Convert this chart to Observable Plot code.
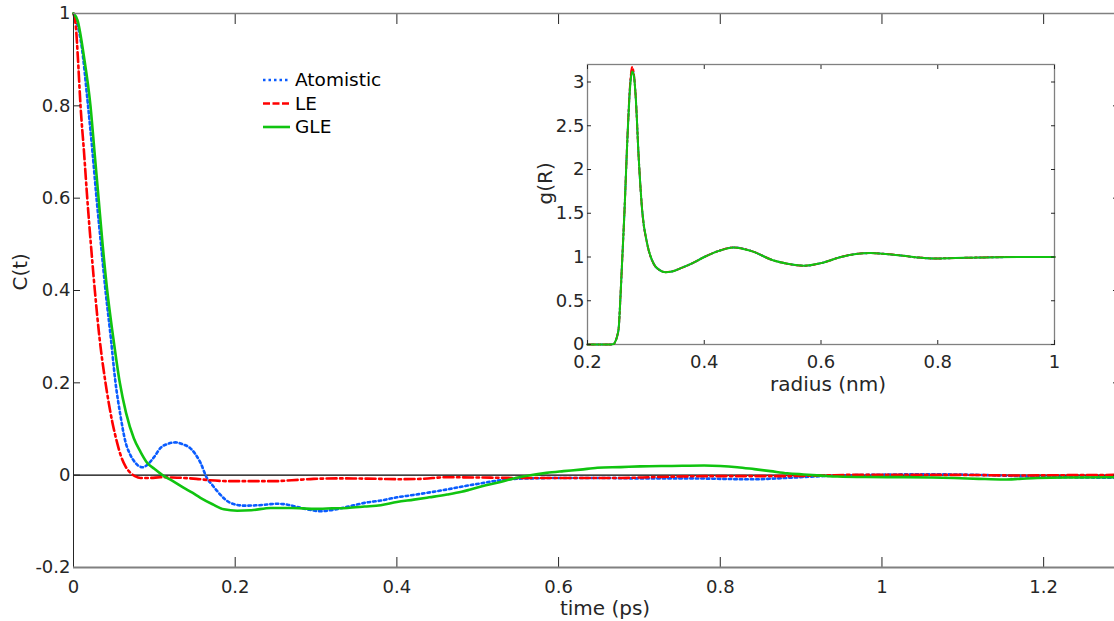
<!DOCTYPE html>
<html><head><meta charset="utf-8">
<script src="https://cdn.jsdelivr.net/npm/d3@7"></script>
<script src="https://cdn.jsdelivr.net/npm/@observablehq/plot@0.6"></script>
<style>
html,body{margin:0;padding:0;background:#fff;overflow:hidden;}
#wrap{position:relative;width:1114px;height:621px;overflow:hidden;font-family:"DejaVu Sans",sans-serif;background:#fff;}
#wrap svg{position:absolute;max-width:none !important;}
</style></head><body><div id="wrap"></div>
<script>
// ---------- main chart data: C(t) ----------
const xTicks = [0, 0.2, 0.4, 0.6, 0.8, 1, 1.2];
const yTicks = [-0.2, 0, 0.2, 0.4, 0.6, 0.8, 1];
const seriesNames = ["Atomistic", "LE", "GLE"];

const atomT = [0, 0.005, 0.01, 0.018, 0.0235, 0.0285, 0.034, 0.0396, 0.046, 0.052, 0.058, 0.064, 0.07, 0.076, 0.081, 0.086, 0.091, 0.1, 0.1076, 0.117, 0.126, 0.135, 0.1447, 0.151, 0.157, 0.165, 0.172, 0.178, 0.186, 0.194, 0.211, 0.23, 0.252, 0.265, 0.277, 0.292, 0.3055, 0.318, 0.33, 0.345, 0.36, 0.38, 0.4, 0.42, 0.4416, 0.462, 0.483, 0.503, 0.524, 0.545, 0.565, 0.6, 0.65, 0.7, 0.76, 0.8, 0.841, 0.87, 0.903, 0.94, 0.965, 1.0, 1.048, 1.089, 1.13, 1.17, 1.2125, 1.25, 1.3];
const atomC = [1, 0.975, 0.93, 0.8, 0.7, 0.6, 0.5, 0.4, 0.3, 0.2, 0.13, 0.074, 0.045, 0.028, 0.0195, 0.017, 0.022, 0.04, 0.059, 0.068, 0.071, 0.067, 0.058, 0.045, 0.027, -0.006, -0.022, -0.035, -0.05, -0.06, -0.066, -0.065, -0.062, -0.064, -0.069, -0.075, -0.078, -0.076, -0.072, -0.066, -0.06, -0.055, -0.048, -0.043, -0.037, -0.031, -0.024, -0.018, -0.012, -0.008, -0.007, -0.006, -0.006, -0.007, -0.007, -0.008, -0.009, -0.007, -0.004, -0.001, 0, 0.001, 0.002, 0.0015, 0, -0.002, -0.004, -0.005, -0.006];

const leT = [0, 0.003, 0.0053, 0.0087, 0.013, 0.017, 0.0215, 0.0264, 0.032, 0.0396, 0.0478, 0.054, 0.058, 0.064, 0.0705, 0.076, 0.083, 0.095, 0.1076, 0.12, 0.136, 0.152, 0.169, 0.194, 0.219, 0.248, 0.27, 0.297, 0.33, 0.36, 0.38, 0.404, 0.43, 0.462, 0.5, 0.544, 0.6, 0.677, 0.72, 0.8, 0.883, 0.93, 0.965, 1.03, 1.089, 1.17, 1.23, 1.3];
const leC = [1, 0.97, 0.908, 0.8, 0.7, 0.6, 0.5, 0.4, 0.3, 0.2, 0.117, 0.07, 0.045, 0.02, 0.005, -0.002, -0.006, -0.006, -0.0045, -0.005, -0.006, -0.008, -0.011, -0.013, -0.013, -0.013, -0.011, -0.008, -0.007, -0.0075, -0.008, -0.0087, -0.008, -0.0045, -0.005, -0.006, -0.006, -0.006, -0.004, -0.002, -0.002, -0.0005, 0.0007, 0.0007, 0.0007, -0.0007, 0, 0.0007];

const gleT = [0, 0.005, 0.0128, 0.021, 0.026, 0.031, 0.036, 0.0417, 0.049, 0.0573, 0.065, 0.0746, 0.083, 0.091, 0.1, 0.112, 0.124, 0.136, 0.147, 0.157, 0.172, 0.186, 0.2025, 0.22, 0.244, 0.27, 0.297, 0.32, 0.3385, 0.36, 0.38, 0.4, 0.421, 0.44, 0.462, 0.48, 0.491, 0.51, 0.524, 0.5446, 0.565, 0.585, 0.606, 0.627, 0.648, 0.677, 0.701, 0.74, 0.78, 0.8, 0.821, 0.842, 0.862, 0.883, 0.903, 0.925, 0.9446, 0.98, 1.027, 1.06, 1.089, 1.12, 1.151, 1.17, 1.192, 1.24, 1.3];
const gleC = [1, 0.985, 0.908, 0.8, 0.7, 0.6, 0.5, 0.4, 0.3, 0.2, 0.135, 0.08, 0.05, 0.027, 0.014, -0.002, -0.014, -0.027, -0.038, -0.049, -0.063, -0.074, -0.077, -0.076, -0.071, -0.071, -0.073, -0.072, -0.071, -0.068, -0.065, -0.058, -0.053, -0.048, -0.042, -0.036, -0.031, -0.022, -0.0166, -0.007, 0, 0.005, 0.0087, 0.012, 0.016, 0.0175, 0.019, 0.02, 0.021, 0.02, 0.0173, 0.013, 0.0087, 0.004, 0.0015, -0.001, -0.003, -0.004, -0.0043, -0.005, -0.006, -0.008, -0.0094, -0.008, -0.006, -0.005, -0.0045];

// ---------- inset data: g(R) ----------
const insetXTicks = [0.2, 0.4, 0.6, 0.8, 1];
const insetYTicks = [0, 0.5, 1, 1.5, 2, 2.5, 3];
const radius = [0.2, 0.22, 0.24, 0.245, 0.248, 0.251, 0.2536, 0.2565, 0.2594, 0.2634, 0.268, 0.2737, 0.2765, 0.2795, 0.2822, 0.288, 0.2937, 0.3023, 0.3136, 0.3236, 0.3336, 0.345, 0.359, 0.38, 0.4, 0.425, 0.45, 0.48, 0.519, 0.545, 0.5706, 0.6, 0.634, 0.66, 0.685, 0.71, 0.736, 0.765, 0.793, 0.83, 0.879, 0.94, 1.0];
const gAtom = [0, 0, 0, 0.005, 0.04, 0.1, 0.2, 0.55, 0.96, 1.53, 2.3, 3.02, 3.14, 3.08, 2.87, 2.1, 1.53, 1.15, 0.92, 0.85, 0.827, 0.835, 0.87, 0.93, 1.0, 1.07, 1.11, 1.07, 0.96, 0.92, 0.9, 0.93, 1.0, 1.035, 1.045, 1.035, 1.018, 0.995, 0.983, 0.988, 0.995, 1.0, 1.0];
const gLE   = [0, 0, 0, 0.005, 0.04, 0.1, 0.2, 0.55, 0.96, 1.53, 2.3, 3.04, 3.17, 3.09, 2.87, 2.1, 1.53, 1.15, 0.92, 0.85, 0.827, 0.835, 0.87, 0.93, 1.0, 1.07, 1.11, 1.07, 0.96, 0.92, 0.9, 0.93, 1.0, 1.035, 1.045, 1.035, 1.018, 0.995, 0.983, 0.988, 0.995, 1.0, 1.0];
const gGLE  = [0, 0, 0, 0.005, 0.04, 0.1, 0.2, 0.55, 0.96, 1.53, 2.3, 3.0, 3.12, 3.07, 2.87, 2.1, 1.53, 1.15, 0.92, 0.85, 0.827, 0.835, 0.87, 0.93, 1.0, 1.07, 1.11, 1.07, 0.96, 0.92, 0.9, 0.93, 1.0, 1.035, 1.045, 1.035, 1.018, 0.995, 0.983, 0.988, 0.995, 1.0, 1.0];

// ---------- styles ----------
const FONT = '"DejaVu Sans", sans-serif';
const TXT = "#262626";
const BLUE = "#0a5cff", RED = "#ff0000", GREEN = "#10c410";
const styles = {
  Atomistic: {stroke: BLUE, dash: "2.5,3"},
  LE: {stroke: RED, dash: "10,3.5,2.5,3.5"},
  GLE: {stroke: GREEN, dash: null}
};
const fmt = d => String(d);
const rows = (X, Y) => X.map((x, i) => ({x, y: Y[i]}));

const wrap = document.getElementById("wrap");

function lineMark(data, name, w, dashScale = 1) {
  const s = styles[name];
  return Plot.line(data, {
    x: "x", y: "y", stroke: s.stroke, strokeWidth: w, curve: "monotone-x",
    strokeDasharray: s.dash ? s.dash.split(",").map(v => +v * dashScale).join(",") : undefined
  });
}

// ---------- main chart ----------
const main = Plot.plot({
  width: 1124, height: 621,
  marginLeft: 73, marginRight: 0, marginTop: 13, marginBottom: 54,
  style: {fontFamily: FONT, fontSize: "18px", color: TXT, background: "transparent", overflow: "visible", maxWidth: "none"},
  x: {domain: [0, 1.3]},
  y: {domain: [-0.2, 1]},
  marks: [
    Plot.ruleY([0], {stroke: "#000", strokeWidth: 1.3}),
    lineMark(rows(atomT, atomC), "Atomistic", 2.6),
    lineMark(rows(leT, leC), "LE", 2.6),
    lineMark(rows(gleT, gleC), "GLE", 2.6),
    Plot.axisX({anchor: "bottom", ticks: xTicks, tickFormat: fmt, tickSize: -10, tickPadding: 23, label: null, fill: TXT, stroke: TXT}),
    Plot.axisX({anchor: "top", ticks: xTicks, tickFormat: () => "", tickSize: -10, label: null, stroke: TXT}),
    Plot.axisY({anchor: "left", ticks: yTicks, tickFormat: fmt, tickSize: -7, tickPadding: 10, label: null, fill: TXT, stroke: TXT}),
    Plot.axisY({anchor: "right", ticks: yTicks, tickFormat: () => "", tickSize: -12, label: null, stroke: TXT}),
    Plot.ruleX([0], {stroke: TXT, strokeWidth: 1}),
    Plot.ruleY([-0.2], {stroke: "#808080", strokeWidth: 2}),
    Plot.ruleY([1], {stroke: "#808080", strokeWidth: 1.5}),
    Plot.text(["C(t)"], {text: d => d, frameAnchor: "left", dx: -53, rotate: -90, fontSize: 20, fill: TXT}),
    Plot.text(["time (ps)"], {text: d => d, frameAnchor: "bottom", dx: 6, dy: 47, fontSize: 20, fill: TXT})
  ]
});
main.style.left = "0px"; main.style.top = "0px";
main.style.maxWidth = "none"; main.style.width = "1124px"; main.style.height = "621px";
wrap.appendChild(main);

// ---------- inset ----------
const inset = Plot.plot({
  width: 570, height: 350,
  marginLeft: 87, marginRight: 16, marginTop: 14, marginBottom: 56,
  style: {fontFamily: FONT, fontSize: "18px", color: TXT, background: "transparent", overflow: "visible", maxWidth: "none"},
  x: {domain: [0.2, 1]},
  y: {domain: [0, 3.2]},
  marks: [
    Plot.frame({fill: "#fff", stroke: "#808080", strokeWidth: 1.3}),
    lineMark(rows(radius, gAtom), "Atomistic", 2, 0.8),
    lineMark(rows(radius, gLE), "LE", 2, 0.8),
    lineMark(rows(radius, gGLE), "GLE", 2),
    Plot.axisX({anchor: "bottom", ticks: insetXTicks, tickFormat: fmt, tickSize: -4, tickPadding: 15, label: null, fill: TXT, stroke: TXT}),
    Plot.axisX({anchor: "top", ticks: insetXTicks, tickFormat: () => "", tickSize: -4, label: null, stroke: TXT}),
    Plot.axisY({anchor: "left", ticks: insetYTicks, tickFormat: fmt, tickSize: -4, tickPadding: 7, label: null, fill: TXT, stroke: TXT}),
    Plot.axisY({anchor: "right", ticks: insetYTicks, tickFormat: () => "", tickSize: -4, label: null, stroke: TXT}),
    Plot.text(["g(R)"], {text: d => d, frameAnchor: "left", dx: -42, rotate: -90, fontSize: 20, fill: TXT}),
    Plot.text(["radius (nm)"], {text: d => d, frameAnchor: "bottom", dx: 7, dy: 46, fontSize: 20, fill: TXT})
  ]
});
inset.style.left = "500px"; inset.style.top = "50px";
wrap.appendChild(inset);

// ---------- legend ----------
const leg = d3.create("svg").attr("width", 160).attr("height", 80)
  .style("left", "250px").style("top", "65px").style("overflow", "visible");
seriesNames.forEach((name, i) => {
  const s = styles[name];
  const yy = 15 + i * 23.5;
  leg.append("line").attr("x1", 13).attr("x2", 40).attr("y1", yy).attr("y2", yy)
    .attr("stroke", s.stroke).attr("stroke-width", 2.6)
    .attr("stroke-dasharray", name === "LE" ? "7,2.5" : s.dash);
  leg.append("text").attr("x", 45).attr("y", yy).attr("dy", "0.35em")
    .attr("font-family", FONT).attr("font-size", 18.5).attr("fill", "#000").text(name);
});
wrap.appendChild(leg.node());
</script></body></html>
